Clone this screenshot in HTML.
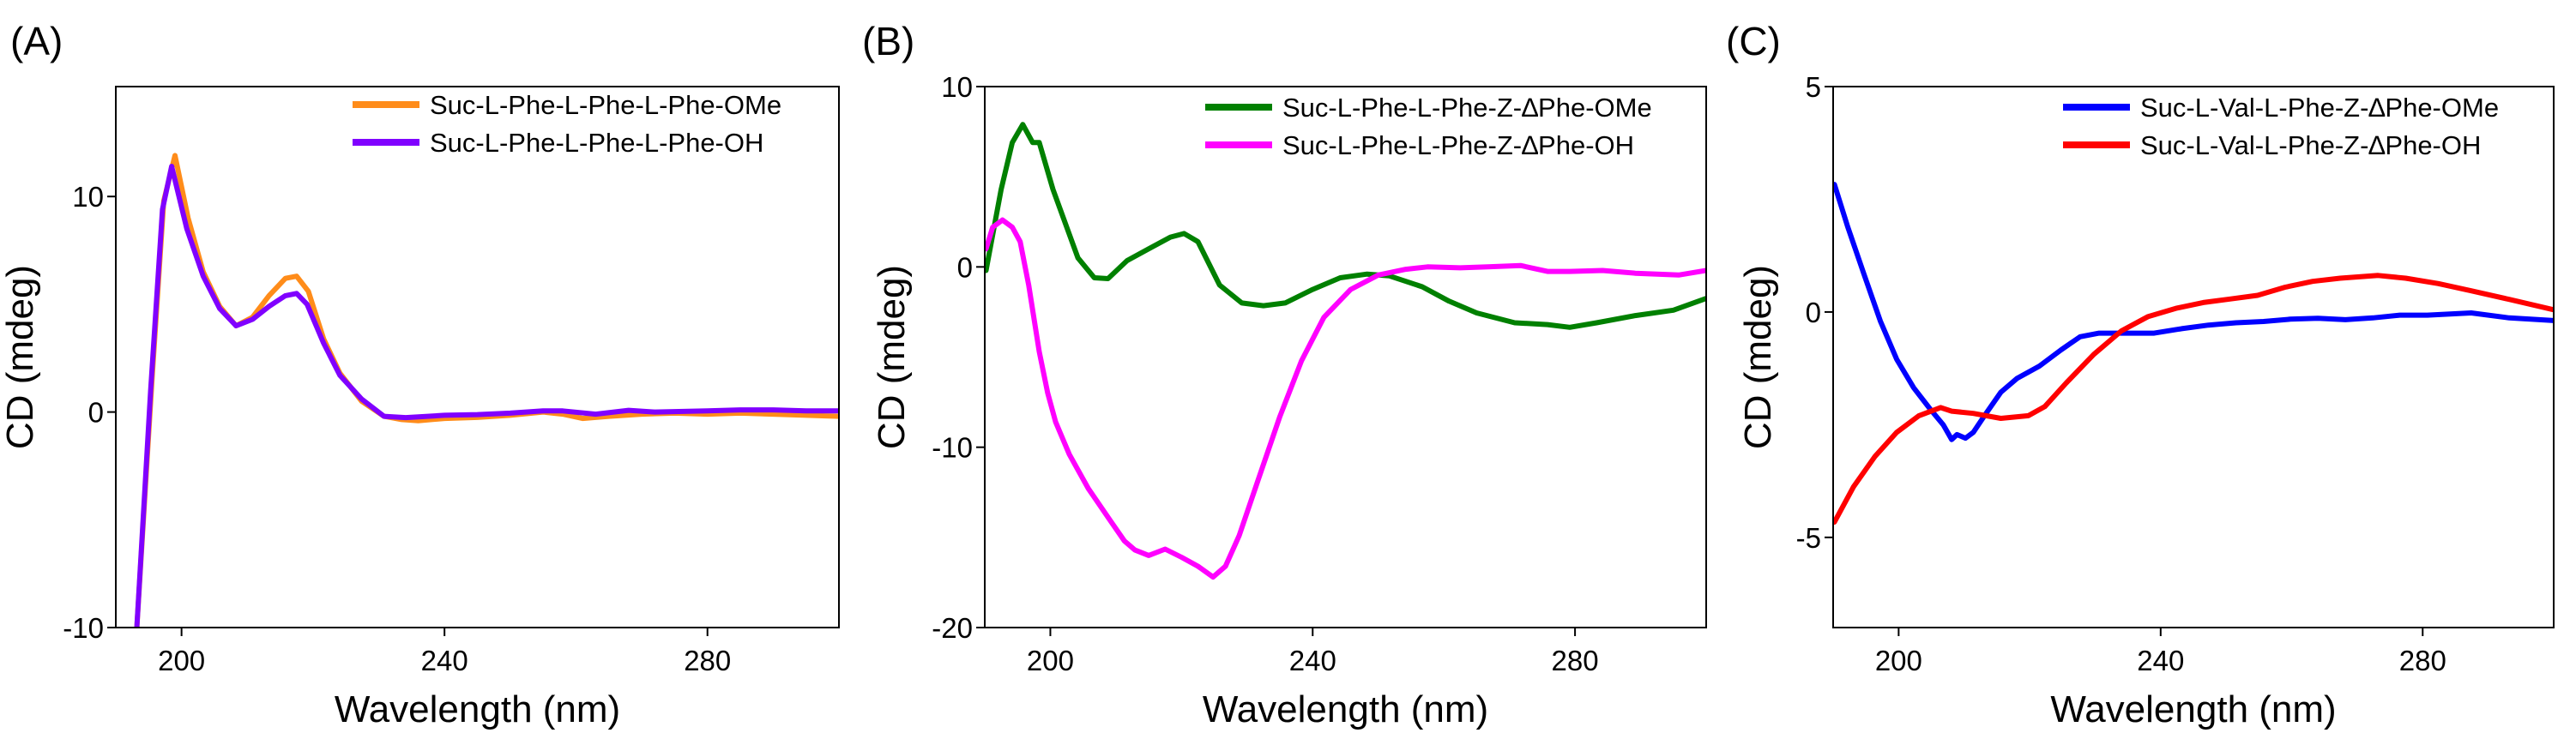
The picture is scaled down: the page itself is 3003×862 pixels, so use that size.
<!DOCTYPE html>
<html><head><meta charset="utf-8">
<style>
html,body{margin:0;padding:0;background:#fff;}
svg{display:block;font-family:"Liberation Sans",Arial,sans-serif;}
</style></head>
<body>
<svg id="fig" width="3003" height="862" viewBox="0 0 3003 862" xmlns="http://www.w3.org/2000/svg"></svg>
<script>
// ---------- Panel A data ----------
const aOMeX = [193.2,195.5,197.3,199.0,201.0,203.3,205.8,208.3,210.8,213.3,215.8,217.5,219.3,221.6,224.1,227.4,230.8,233.5,236.0,240,245,250,255,258,261,265,270,275,280,285,290,295,300];
const aOMeY = [-10,1.5,9.8,11.9,9.0,6.5,4.9,4.0,4.4,5.4,6.2,6.3,5.6,3.4,1.8,0.5,-0.2,-0.35,-0.4,-0.3,-0.25,-0.15,0.0,-0.1,-0.3,-0.2,-0.1,-0.05,-0.1,-0.05,-0.1,-0.15,-0.2];
const aOHX = [193.2,195.3,197.1,198.5,200.8,203.3,205.8,208.3,210.8,213.3,215.8,217.5,219.1,221.6,224.1,227.4,230.8,234.1,240,245,250,255,258,263,268,272,280,285,290,295,300];
const aOHY = [-10,1.0,9.4,11.4,8.5,6.3,4.8,4.0,4.3,4.9,5.4,5.5,5.0,3.2,1.7,0.6,-0.2,-0.26,-0.15,-0.12,-0.05,0.05,0.05,-0.1,0.08,0.0,0.05,0.1,0.1,0.05,0.05];
// ---------- Panel B data ----------
const bOMeX = [190.2,192.5,194.2,195.8,197.3,198.3,200.4,202.5,204.2,206.7,208.8,211.7,215,218.3,220.4,222.5,225.8,229.2,232.5,235.8,240,244.2,248.3,251.7,256.7,260.8,265,270.8,275.8,279.2,283.3,289.2,295,300];
const bOMeY = [-0.2,4.3,6.9,7.9,6.9,6.9,4.3,2.2,0.5,-0.6,-0.65,0.35,1.0,1.65,1.85,1.4,-1.0,-2.0,-2.15,-2.0,-1.25,-0.6,-0.4,-0.5,-1.1,-1.9,-2.55,-3.1,-3.2,-3.35,-3.1,-2.7,-2.4,-1.75];
const bOHX = [190.2,191.2,192.7,194.2,195.4,196.7,198.3,199.6,200.8,202.9,205.8,209.2,211.3,212.9,215,217.5,220,222.5,224.8,226.7,228.8,231.7,235,238.3,241.7,245.8,250,254.2,257.5,262.5,266.7,271.7,275.8,279.2,284.2,289.2,295.8,300];
const bOHY = [1.0,2.2,2.6,2.2,1.4,-1.0,-4.7,-7.0,-8.6,-10.4,-12.3,-14.1,-15.2,-15.7,-16.0,-15.65,-16.1,-16.6,-17.2,-16.6,-14.9,-11.8,-8.3,-5.2,-2.8,-1.25,-0.45,-0.13,0,-0.05,0,0.08,-0.25,-0.25,-0.2,-0.35,-0.45,-0.2];
// ---------- Panel C data ----------
const cOMeX = [190.2,192.2,194.7,197.2,199.7,202.3,204.8,206.8,208.1,208.9,210.2,211.4,213.1,215.6,218.1,221.5,224.8,227.7,230.6,235.7,239,243.2,247.3,251.5,255.7,259.8,264,268.2,272.4,276.5,280.7,287.4,293.2,300];
const cOMeY = [2.83,1.9,0.84,-0.2,-1.05,-1.68,-2.15,-2.5,-2.83,-2.72,-2.8,-2.67,-2.3,-1.78,-1.47,-1.2,-0.84,-0.55,-0.47,-0.47,-0.47,-0.37,-0.29,-0.24,-0.21,-0.16,-0.14,-0.17,-0.13,-0.07,-0.07,-0.02,-0.13,-0.19];
const cOHX = [190.2,193.1,196.4,199.7,203.1,206.4,208.1,211.4,215.6,219.8,222.3,225.6,229.8,234,238.1,242.3,246.5,250.7,254.8,259,263.2,267.4,273.2,277.4,282.4,287.4,293.2,300];
const cOHY = [-4.66,-3.88,-3.2,-2.67,-2.3,-2.12,-2.2,-2.25,-2.36,-2.3,-2.1,-1.57,-0.94,-0.42,-0.1,0.08,0.21,0.29,0.37,0.55,0.68,0.75,0.81,0.75,0.63,0.47,0.28,0.05];
// ---------- Tick labels ----------
const xTicks = [200,240,280];
const aYTicks = [-10,0,10];
const bYTicks = [-20,-10,0,10];
const cYTicks = [-5,0,5];

const NS = "http://www.w3.org/2000/svg";
const svg = document.getElementById('fig');
function mk(tag, attrs, parent){
  const e = document.createElementNS(NS, tag);
  for (const k in attrs) e.setAttribute(k, attrs[k]);
  (parent||svg).appendChild(e);
  return e;
}

const panels = [
  {id:'a', label:'(A)', lx:12, L:135, R:978, ymin:-10, ymax:15.1, yt:aYTicks, ytx:38,
   series:[{x:aOMeX,y:aOMeY,c:'#ff8c1a',n:'Suc-L-Phe-L-Phe-L-Phe-OMe'},{x:aOHX,y:aOHY,c:'#8000ff',n:'Suc-L-Phe-L-Phe-L-Phe-OH'}], legX:411},
  {id:'b', label:'(B)', lx:1005, L:1148, R:1989, ymin:-20, ymax:10, yt:bYTicks, ytx:1054,
   series:[{x:bOMeX,y:bOMeY,c:'#008000',n:'Suc-L-Phe-L-Phe-Z-\u2206Phe-OMe'},{x:bOHX,y:bOHY,c:'#ff00ff',n:'Suc-L-Phe-L-Phe-Z-\u2206Phe-OH'}], legX:1405},
  {id:'c', label:'(C)', lx:2012, L:2137, R:2977, ymin:-7, ymax:5, yt:cYTicks, ytx:2064,
   series:[{x:cOMeX,y:cOMeY,c:'#0000ff',n:'Suc-L-Val-L-Phe-Z-\u2206Phe-OMe'},{x:cOHX,y:cOHY,c:'#ff0000',n:'Suc-L-Val-L-Phe-Z-\u2206Phe-OH'}], legX:2405}
];
const T = 101, B = 732, XMIN = 190, XMAX = 300;

panels.forEach(p => {
  const g = mk('g', {});
  
  
  const sx = v => p.L + (v - XMIN) / (XMAX - XMIN) * (p.R - p.L);
  const sy = v => B - (v - p.ymin) / (p.ymax - p.ymin) * (B - T);

  const lab = mk('text', {x:p.lx, y:64, 'font-size':46, fill:'#000'}, g);
  lab.textContent = p.label;
  
  

  const clip = mk('clipPath', {id:'clip-' + p.id}, g);
  mk('rect', {x:p.L, y:T, width:p.R - p.L, height:B - T}, clip);

  p.series.forEach((s, i) => {
    let d = '';
    s.x.forEach((xv, k) => { d += (k ? 'L' : 'M') + sx(xv).toFixed(1) + ' ' + sy(s.y[k]).toFixed(1); });
    const path = mk('path', {d:d, fill:'none', stroke:s.c, 'stroke-width':6, 'stroke-linejoin':'round', 'stroke-linecap':'round', 'clip-path':'url(#clip-' + p.id + ')'}, g);
    
    

    const ly = (p.id === 'a' ? 122 : 125) + i * 44;
    const ll = mk('line', {x1:p.legX, x2:p.legX + 78, y1:ly, y2:ly, stroke:s.c, 'stroke-width':8}, g);
    
    
    const lt = mk('text', {x:p.legX + 90, y:ly + 11, 'font-size':31, fill:'#000'}, g);
    lt.textContent = s.n;
    
    
  });

  const fr = mk('rect', {x:p.L, y:T, width:p.R - p.L, height:B - T, fill:'none', stroke:'#000', 'stroke-width':2}, g);
  
  

  xTicks.forEach(t => {
    mk('line', {x1:sx(t), x2:sx(t), y1:B, y2:B + 10, stroke:'#000', 'stroke-width':2}, g);
    const tx = mk('text', {x:sx(t), y:782, 'font-size':33, 'text-anchor':'middle', fill:'#000'}, g);
    tx.textContent = t;
    
    
  });
  p.yt.forEach(t => {
    mk('line', {x1:p.L - 10, x2:p.L, y1:sy(t), y2:sy(t), stroke:'#000', 'stroke-width':2}, g);
    const ty = mk('text', {x:p.L - 14, y:sy(t) + 12, 'font-size':33, 'text-anchor':'end', fill:'#000'}, g);
    ty.textContent = t;
    
    
  });

  const xt = mk('text', {x:(p.L + p.R) / 2, y:842, 'font-size':44, 'text-anchor':'middle', fill:'#000'}, g);
  xt.textContent = 'Wavelength (nm)';
  
  
  const yy = (T + B) / 2;
  const yt = mk('text', {x:p.ytx, y:yy, 'font-size':44, 'text-anchor':'middle', fill:'#000', transform:'rotate(-90 ' + p.ytx + ' ' + yy + ')'}, g);
  yt.textContent = 'CD (mdeg)';
  
  
});
</script>
</body></html>
